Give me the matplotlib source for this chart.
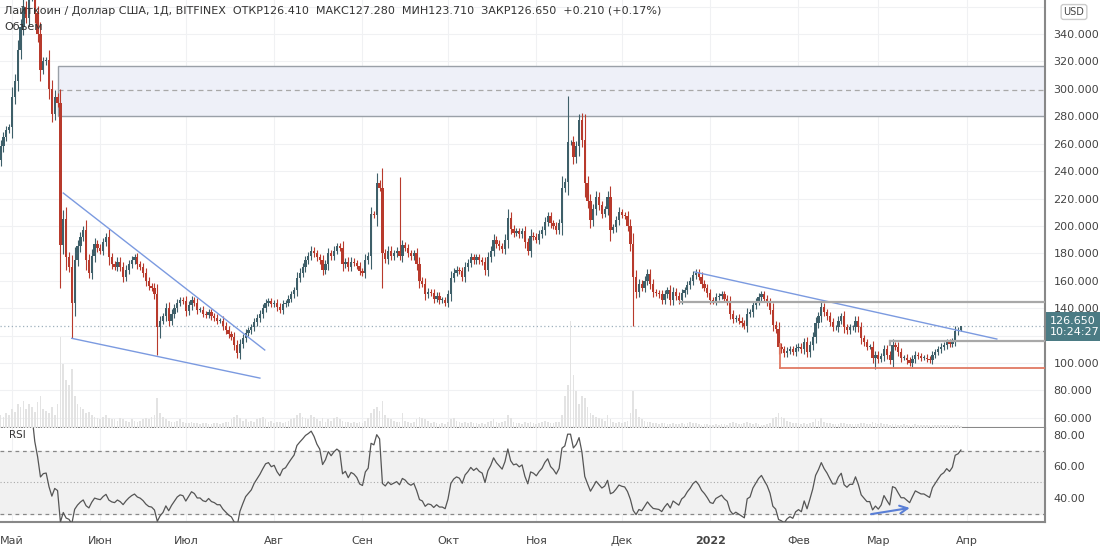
import numpy as np
import pandas as pd
import matplotlib
matplotlib.use("Agg")
import matplotlib.pyplot as plt
from matplotlib.patches import Rectangle

plt.rcParams['font.family'] = ['DejaVu Sans']

start_date = "2021-04-27"
closes = [258, 265, 270, 272, 294, 306, 328, 345, 360, 352, 368, 375, 355, 340, 314, 320, 321, 300, 282, 294,
          290, 186, 205, 177, 170, 144, 175, 185, 192, 197, 175, 166, 178, 187, 184, 182, 188, 192, 177, 172,
          170, 174, 170, 163, 168, 172, 175, 177, 172, 170, 166, 160, 156, 155, 150, 126, 131, 134, 140, 131,
          136, 140, 144, 146, 145, 138, 142, 146, 144, 139, 139, 136, 135, 137, 134, 133, 131, 131, 127, 124,
          121, 119, 113, 107, 114, 118, 122, 124, 126, 130, 133, 136, 140, 144, 145, 143, 144, 141, 139, 143,
          144, 147, 150, 153, 162, 166, 170, 175, 178, 182, 180, 177, 175, 168, 172, 180, 178, 182, 185, 184,
          172, 174, 170, 174, 173, 171, 167, 166, 175, 178, 209, 208, 231, 228, 180, 176, 182, 178, 180, 182,
          178, 186, 184, 180, 178, 180, 172, 160, 158, 150, 152, 151, 147, 149, 146, 146, 144, 150, 162, 166,
          168, 167, 163, 170, 173, 177, 175, 177, 175, 174, 168, 177, 182, 190, 187, 185, 183, 190, 206, 198,
          195, 196, 194, 196, 188, 182, 193, 192, 190, 194, 197, 203, 207, 202, 200, 197, 202, 228, 232, 261,
          261, 250, 258, 277, 263, 231, 218, 204, 212, 221, 215, 209, 212, 221, 197, 199, 204, 210, 208, 207,
          200, 187, 163, 152, 158, 155, 160, 165, 158, 152, 151, 150, 146, 150, 153, 146, 152, 149, 146, 151,
          153, 157, 160, 164, 166, 163, 158, 155, 151, 146, 145, 148, 149, 150, 147, 145, 136, 132, 133, 131,
          129, 127, 136, 137, 142, 145, 148, 150, 147, 144, 139, 128, 125, 112, 110, 107, 109, 110, 108, 111,
          112, 110, 115, 108, 113, 119, 129, 134, 141, 137, 134, 130, 126, 126, 131, 134, 126, 124, 126, 126,
          131, 126, 118, 115, 112, 112, 104, 106, 103, 105, 110, 106, 102, 113, 112, 108, 104, 104, 102, 100,
          103, 106, 105, 104, 104, 103, 102, 106, 108, 110, 112, 113, 115, 114, 116, 123, 124, 126.65]
volumes = [12, 10, 14, 12, 18, 15, 22, 20, 25, 18, 22, 20, 15, 24, 30, 18, 16, 14, 20, 12,
           22, 85, 60, 45, 40, 55, 30, 22, 20, 18, 14, 15, 12, 10, 9, 8, 10, 12, 9, 8,
           8, 7, 9, 8, 7, 6, 8, 7, 6, 7, 8, 9, 8, 10, 12, 28, 14, 10, 8, 7,
           6, 6, 7, 8, 6, 5, 5, 6, 5, 5, 4, 5, 5, 4, 4, 5, 5, 4, 5, 6,
           6, 8, 10, 12, 9, 7, 8, 6, 7, 6, 8, 9, 10, 8, 6, 7, 5, 6, 6, 5,
           6, 7, 8, 9, 12, 14, 10, 9, 8, 12, 10, 8, 7, 9, 6, 8, 7, 9, 10, 8,
           7, 6, 6, 5, 6, 5, 6, 5, 7, 9, 14, 18, 20, 16, 25, 12, 9, 8, 7, 6,
           6, 14, 7, 6, 5, 6, 8, 10, 9, 8, 7, 5, 6, 5, 4, 5, 4, 6, 8, 9,
           7, 6, 5, 6, 5, 6, 5, 5, 4, 5, 4, 6, 7, 8, 6, 5, 6, 7, 12, 9,
           6, 5, 5, 4, 6, 5, 6, 5, 4, 5, 6, 7, 6, 5, 5, 6, 6, 12, 30, 40,
           100, 50, 35, 22, 30, 28, 20, 14, 12, 10, 9, 8, 7, 12, 8, 6, 5, 6, 5, 6,
           7, 14, 35, 18, 10, 8, 7, 6, 6, 5, 5, 4, 5, 5, 4, 4, 5, 4, 4, 5,
           4, 5, 6, 5, 5, 4, 3, 4, 4, 3, 3, 4, 3, 4, 4, 3, 5, 6, 5, 4,
           4, 5, 6, 5, 4, 5, 4, 3, 3, 4, 5, 9, 10, 14, 10, 9, 7, 6, 5, 5,
           5, 4, 5, 4, 5, 6, 8, 7, 9, 6, 5, 5, 4, 4, 4, 5, 5, 4, 4, 4,
           4, 4, 5, 5, 4, 4, 6, 5, 4, 5, 4, 4, 3, 4, 4, 3, 3, 4, 3, 3,
           3, 4, 3, 3, 3, 3, 3, 3, 3, 3, 3, 3, 3, 3, 3, 3, 3, 2]
opens = [248] + closes[:-1]
wick_hi = {21: 300, 130: 214, 140: 236, 199: 295, 203: 282, 205: 282, 337: 127.28, 8: 372, 10: 380}
wick_lo = {21: 155, 25: 118, 55: 106, 83: 104, 134: 155, 222: 127, 307: 96, 337: 123.71, 56: 118}
month_labels = ["Май", "Июн", "Июл", "Авг", "Сен", "Окт", "Ноя", "Дек", "2022", "Фев", "Мар", "Апр"]
month_starts = ["2021-05-01", "2021-06-01", "2021-07-01", "2021-08-01", "2021-09-01", "2021-10-01",
                "2021-11-01", "2021-12-01", "2022-01-01", "2022-02-01", "2022-03-01", "2022-04-01"]
price_ticks = [60, 80, 100, 140, 160, 180, 200, 220, 240, 260, 280, 300, 320, 340]
grid_prices = list(range(60, 361, 20))
rsi_ticks = [40, 60, 80]

n = len(closes)
idx = np.arange(n)
o = np.array(opens, float)
c = np.array(closes, float)
hi = np.maximum(o, c) + np.abs(c - o) * 0.25 + 2
lo = np.minimum(o, c) - np.abs(c - o) * 0.25 - 2
for k, v in wick_hi.items():
    hi[k] = v
for k, v in wick_lo.items():
    lo[k] = v

delta = np.diff(c, prepend=c[0])
gain = np.clip(delta, 0, None)
loss = np.clip(-delta, 0, None)
ag = pd.Series(gain).ewm(alpha=1/14, adjust=False).mean()
al = pd.Series(loss).ewm(alpha=1/14, adjust=False).mean()
rsi = (100 - 100 / (1 + ag / al.replace(0, 1e-9))).values

t0 = pd.Timestamp(start_date)
mpos = [(pd.Timestamp(d) - t0).days for d in month_starts]

UP = "#3e5f69"
DN = "#b83a2c"
fig = plt.figure(figsize=(11, 5.53), dpi=100)
fig.patch.set_facecolor("white")
W, H = 1100, 553
axp = fig.add_axes([0, 1 - 428 / H, 1045 / W, 428 / H])
axr = fig.add_axes([0, 1 - 522 / H, 1045 / W, 94 / H])
xl = (-0.2, 366.5)
for ax in (axp, axr):
    ax.set_xlim(*xl)
    ax.set_facecolor("white")
    for s in ("top", "left"):
        ax.spines[s].set_visible(False)
    ax.spines["right"].set_color("#888888")
    ax.spines["bottom"].set_color("#888888")
    ax.spines["right"].set_linewidth(1.5)
    ax.spines["bottom"].set_linewidth(1.5)
    for m in mpos:
        ax.axvline(m, color="#f0f1f3", lw=0.8, zorder=0)

axp.set_ylim(52.6, 364.8)
for p in grid_prices:
    axp.axhline(p, color="#f0f1f3", lw=0.8, zorder=0)

axv = axp.twinx()
axv.set_ylim(0, 400)
axv.set_xlim(*xl)
axv.axis("off")
axv.bar(idx, volumes, width=0.6, color="#e3e3e3", zorder=1)

cols = np.where(c >= o, UP, DN)
axp.vlines(idx, lo, hi, colors=cols, lw=0.8, zorder=3)
axp.bar(idx, np.maximum(np.abs(c - o), 0.4), bottom=np.minimum(o, c), width=0.8, color=cols, zorder=4)

axp.add_patch(Rectangle((20, 280.2), 400, 36.5, facecolor="#eef0f8", edgecolor="#9aa0a8", lw=1, zorder=2))
axp.plot([20, 367], [299, 299], ls=(0, (4, 3)), color="#a8a8a8", lw=0.9, zorder=2)

axp.plot([22, 92.7], [224, 109.5], color="#7b9ae0", lw=1, zorder=5)
axp.plot([25, 91], [118, 89], color="#7b9ae0", lw=1, zorder=5)
axp.plot([243.6, 349.6], [166.4, 117.5], color="#7b9ae0", lw=1, zorder=5)
axp.plot([238.4, 367], [144.5, 144.5], color="#a8a8a8", lw=1.6, zorder=5)
axp.plot([312, 367], [116.3, 116.3], color="#a8a8a8", lw=1.6, zorder=5)
axp.plot([312, 312], [116.3, 113], color="#a8a8a8", lw=1.6, zorder=5)
axp.plot([273.5, 367], [96.5, 96.5], color="#e07a63", lw=1.3, zorder=5)
axp.plot([273.5, 273.5], [96.5, 114], color="#e07a63", lw=1.3, zorder=5)
axp.axhline(c[-1], color="#9fb0bd", ls=(0, (1, 2)), lw=0.9, zorder=2)

axp.yaxis.tick_right()
axp.set_yticks(price_ticks)
axp.set_yticklabels([f"{p:.3f}" for p in price_ticks], fontsize=8, color="#444444")
axp.tick_params(axis="y", length=0, pad=6)
axp.tick_params(axis="x", length=0, labelbottom=False)
axp.text(1.005, c[-1], f"{c[-1]:.3f}\n10:24:27", transform=axp.get_yaxis_transform(),
         va="center", ha="left", fontsize=8, color="white", linespacing=1.2,
         bbox=dict(boxstyle="square,pad=0.35", facecolor="#4b7b84", edgecolor="none"), zorder=10, clip_on=False)

fig.text(4 / W, 1 - 11 / H, "Лайткоин / Доллар США, 1Д, BITFINEX  ОТКР126.410  МАКС127.280  МИН123.710  ЗАКР126.650  +0.210 (+0.17%)",
         fontsize=8, color="#333333", va="center")
fig.text(4 / W, 1 - 27 / H, "Объем", fontsize=8, color="#333333", va="center")
fig.text(1074 / W, 1 - 12 / H, "USD", fontsize=7, color="#444444", ha="center", va="center",
         bbox=dict(boxstyle="round,pad=0.25", facecolor="white", edgecolor="#cccccc"))

axr.set_ylim(24.8, 84.4)
axr.axhspan(30, 70, color="#f1f1f1", zorder=0)
axr.axhline(70, color="#888888", ls=(0, (3, 3)), lw=0.9)
axr.axhline(30, color="#888888", ls=(0, (3, 3)), lw=0.9)
axr.axhline(50, color="#aaaaaa", ls=(0, (1, 2)), lw=0.8)
axr.plot(idx[3:], rsi[3:], color="#555555", lw=0.9, zorder=3)
axr.annotate("", xy=(320, 34), xytext=(304.5, 29.5),
             arrowprops=dict(arrowstyle="->", color="#5a7fd6", lw=1.5, mutation_scale=14))
axr.text(3, 80, "RSI", fontsize=7.5, color="#333333", va="center")
axr.yaxis.tick_right()
axr.set_yticks(rsi_ticks)
axr.set_yticklabels([f"{v:.2f}" for v in rsi_ticks], fontsize=8, color="#444444")
axr.tick_params(axis="y", length=0, pad=6)
axr.set_xticks(mpos)
axr.set_xticklabels(month_labels, fontsize=8, color="#444444")
for lab in axr.get_xticklabels():
    if lab.get_text() == "2022":
        lab.set_fontweight("bold")
axr.tick_params(axis="x", length=0, pad=10)

fig.savefig("out.png", dpi=100, facecolor="white")
